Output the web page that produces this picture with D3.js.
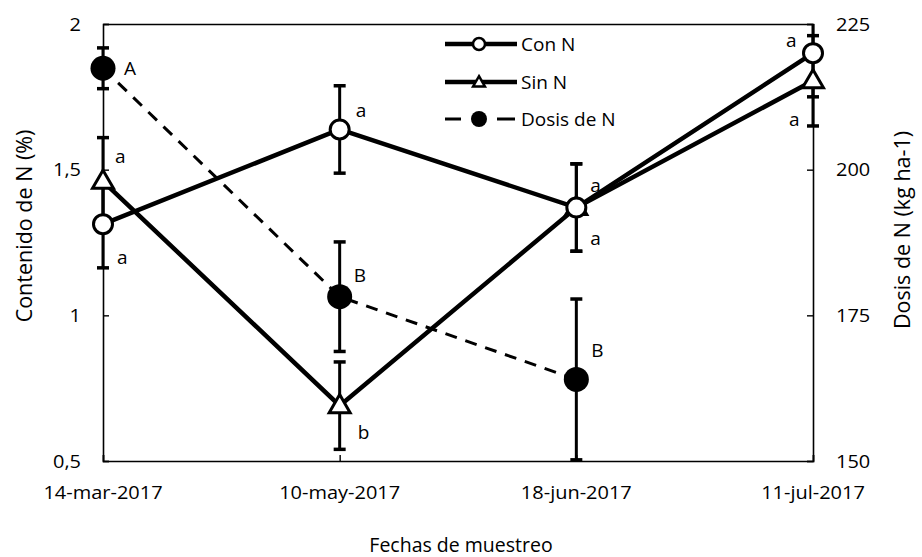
<!DOCTYPE html>
<html>
<head>
<meta charset="utf-8">
<script src="https://cdn.jsdelivr.net/npm/d3@7"></script>
<style>
html,body{margin:0;padding:0;background:#fff;}
text{font-family:"Open Sans",Lato,sans-serif;fill:#000;}
</style>
</head>
<body>
<svg id="chart" width="922" height="557"></svg>
<script>
// ---- data ----
const fechas = ["14-mar-2017","10-may-2017","18-jun-2017","11-jul-2017"];
const conN    = [1.313, 1.638, 1.37, 1.90];
const conNErr = [0.15, 0.15, 0.15, 0.15];
const sinN    = [1.46, 0.69, 1.37, 1.805];
const sinNErr = [0.15, 0.15, 0.15, 0.155];
const dosisFechas = ["14-mar-2017","10-may-2017","18-jun-2017"];
const dosis    = [217.4, 178.2, 164.0];
const dosisErr = [3.5, 9.4, 13.8];
const leftTicks  = [0.5, 1, 1.5, 2];
const rightTicks = [150, 175, 200, 225];
const conNLetters  = ["a","a","a","a"];
const sinNLetters  = ["a","b","a","a"];
const dosisLetters = ["A","B","B"];
const legendNames = ["Con N","Sin N","Dosis de N"];

// ---- layout ----
const svg = d3.select("#chart");
const L = 103, R = 813, T = 24, B = 461;
const SX = 1.08; // horizontal stretch of tick labels

const x = d3.scalePoint().domain(fechas).range([L, R]).padding(0);
const y = d3.scaleLinear().domain([0.5, 2]).range([B, T]);
const y2 = d3.scaleLinear().domain([150, 225]).range([B, T]);

const fmt = d => String(d).replace(".", ",");

svg.append("defs").append("clipPath").attr("id","plot")
  .append("rect").attr("x", L-20).attr("y", T).attr("width", R-L+40).attr("height", B-T);

// axes
const axL = svg.append("g").attr("transform",`translate(${L},0)`)
  .call(d3.axisRight(y).tickValues(leftTicks).tickSize(6).tickFormat(""));
const axR = svg.append("g").attr("transform",`translate(${R},0)`)
  .call(d3.axisLeft(y2).tickValues(rightTicks).tickSize(6).tickFormat(""));
const axB = svg.append("g").attr("transform",`translate(0,${B})`)
  .call(d3.axisTop(x).tickSize(6).tickFormat(""));
const axT = svg.append("g").attr("transform",`translate(0,${T})`)
  .call(d3.axisBottom(x).tickValues([]).tickSize(0));
[axL,axR,axB,axT].forEach(g=>{
  g.selectAll("path.domain").attr("stroke","#000").attr("stroke-width",1.6);
  g.selectAll(".tick line").attr("stroke","#000").attr("stroke-width",1.4);
});

// tick labels
svg.append("g").selectAll("text").data(leftTicks).join("text")
  .attr("transform", d=>`translate(81,${y(d)}) scale(${SX},1)`).attr("dy","0.36em")
  .attr("text-anchor","end").attr("font-size",18.5).text(fmt);
svg.append("g").selectAll("text").data(rightTicks).join("text")
  .attr("transform", d=>`translate(836,${y2(d)}) scale(${SX},1)`).attr("dy","0.36em")
  .attr("text-anchor","start").attr("font-size",18.5).text(d=>d);
svg.append("g").selectAll("text").data(fechas).join("text")
  .attr("transform", d=>`translate(${x(d)},492) scale(${SX},1)`).attr("dy","0.36em")
  .attr("text-anchor","middle").attr("font-size",18.5).text(d=>d);

// titles
svg.append("text").attr("x",461).attr("y",545).attr("dy","0.36em")
  .attr("text-anchor","middle").attr("font-size",19.5).text("Fechas de muestreo");
svg.append("text").attr("transform","translate(24,226) rotate(-90)").attr("dy","0.36em")
  .attr("text-anchor","middle").attr("font-size",21.5).text("Contenido de N (%)");
svg.append("text").attr("transform","translate(902,230) rotate(-90)").attr("dy","0.36em")
  .attr("text-anchor","middle").attr("font-size",21.5).text("Dosis de N (kg ha-1)");

const plot = svg.append("g").attr("clip-path","url(#plot)");

function errBars(g, xs, vals, errs, ys){
  const data = xs.map((k,i)=>({x:x(k), lo:ys(vals[i]-errs[i]), hi:ys(vals[i]+errs[i])}));
  g.selectAll(null).data(data).join("line")
    .attr("x1",d=>d.x).attr("x2",d=>d.x).attr("y1",d=>d.lo).attr("y2",d=>d.hi)
    .attr("stroke","#000").attr("stroke-width",3);
  ["lo","hi"].forEach(k=>{
    g.selectAll(null).data(data).join("line")
      .attr("x1",d=>d.x-6).attr("x2",d=>d.x+6).attr("y1",d=>d[k]).attr("y2",d=>d[k])
      .attr("stroke","#000").attr("stroke-width",3.5);
  });
}

errBars(plot, fechas, conN, conNErr, y);
errBars(plot, fechas, sinN, sinNErr, y);
errBars(plot, dosisFechas, dosis, dosisErr, y2);

// lines
const lineL = d3.line().x((d,i)=>x(fechas[i])).y(d=>y(d));
const lineD = d3.line().x((d,i)=>x(dosisFechas[i])).y(d=>y2(d));
plot.append("path").attr("d", lineD(dosis)).attr("fill","none")
  .attr("stroke","#000").attr("stroke-width",3).attr("stroke-dasharray","12,9");
plot.append("path").attr("d", lineL(sinN)).attr("fill","none")
  .attr("stroke","#000").attr("stroke-width",4.5);
plot.append("path").attr("d", lineL(conN)).attr("fill","none")
  .attr("stroke","#000").attr("stroke-width",4.5);

// markers
const tri = d3.symbol().type(d3.symbolTriangle).size(190);
svg.append("g").selectAll("path").data(sinN).join("path")
  .attr("d", tri).attr("transform",(d,i)=>`translate(${x(fechas[i])},${y(d)+1})`)
  .attr("fill","#fff").attr("stroke","#000").attr("stroke-width",3);
svg.append("g").selectAll("circle").data(conN).join("circle")
  .attr("cx",(d,i)=>x(fechas[i])).attr("cy",d=>y(d)).attr("r",9.5)
  .attr("fill","#fff").attr("stroke","#000").attr("stroke-width",3);
svg.append("g").selectAll("circle").data(dosis).join("circle")
  .attr("cx",(d,i)=>x(dosisFechas[i])).attr("cy",d=>y2(d)).attr("r",12.5)
  .attr("fill","#000");

// letters
const lab = svg.append("g").attr("font-size",19);
const conNOff = [[14,33],[16,-19],[14,-22],[-27,-13]];
const sinNOff = [[12,-25],[18,27],[14,31],[-24,38]];
const dosisOff = [[21,0],[14,-22],[15,-29]];
conN.forEach((v,i)=>lab.append("text").attr("x",x(fechas[i])+conNOff[i][0]).attr("y",y(v)+conNOff[i][1]).attr("dy","0.36em").text(conNLetters[i]));
sinN.forEach((v,i)=>lab.append("text").attr("x",x(fechas[i])+sinNOff[i][0]).attr("y",y(v)+sinNOff[i][1]).attr("dy","0.36em").text(sinNLetters[i]));
dosis.forEach((v,i)=>lab.append("text").attr("x",x(dosisFechas[i])+dosisOff[i][0]).attr("y",y2(v)+dosisOff[i][1]).attr("dy","0.36em").text(dosisLetters[i]));

// legend
const lg = svg.append("g");
const ly = [44, 82, 119];
lg.append("line").attr("x1",445).attr("x2",517).attr("y1",ly[0]).attr("y2",ly[0]).attr("stroke","#000").attr("stroke-width",4.5);
lg.append("circle").attr("cx",479).attr("cy",ly[0]).attr("r",6).attr("fill","#fff").attr("stroke","#000").attr("stroke-width",2.5);
lg.append("line").attr("x1",445).attr("x2",517).attr("y1",ly[1]).attr("y2",ly[1]).attr("stroke","#000").attr("stroke-width",4.5);
lg.append("path").attr("d", d3.symbol().type(d3.symbolTriangle).size(60)).attr("transform",`translate(479,${ly[1]+1})`)
  .attr("fill","#fff").attr("stroke","#000").attr("stroke-width",2.5);
[[445,461],[497,515]].forEach(s=>lg.append("line").attr("x1",s[0]).attr("x2",s[1]).attr("y1",ly[2]).attr("y2",ly[2]).attr("stroke","#000").attr("stroke-width",3));
lg.append("circle").attr("cx",479).attr("cy",ly[2]).attr("r",8).attr("fill","#000");
legendNames.forEach((n,i)=>lg.append("text").attr("x",521).attr("y",ly[i]).attr("dy","0.36em").attr("font-size",19).text(n));
</script>
</body>
</html>
